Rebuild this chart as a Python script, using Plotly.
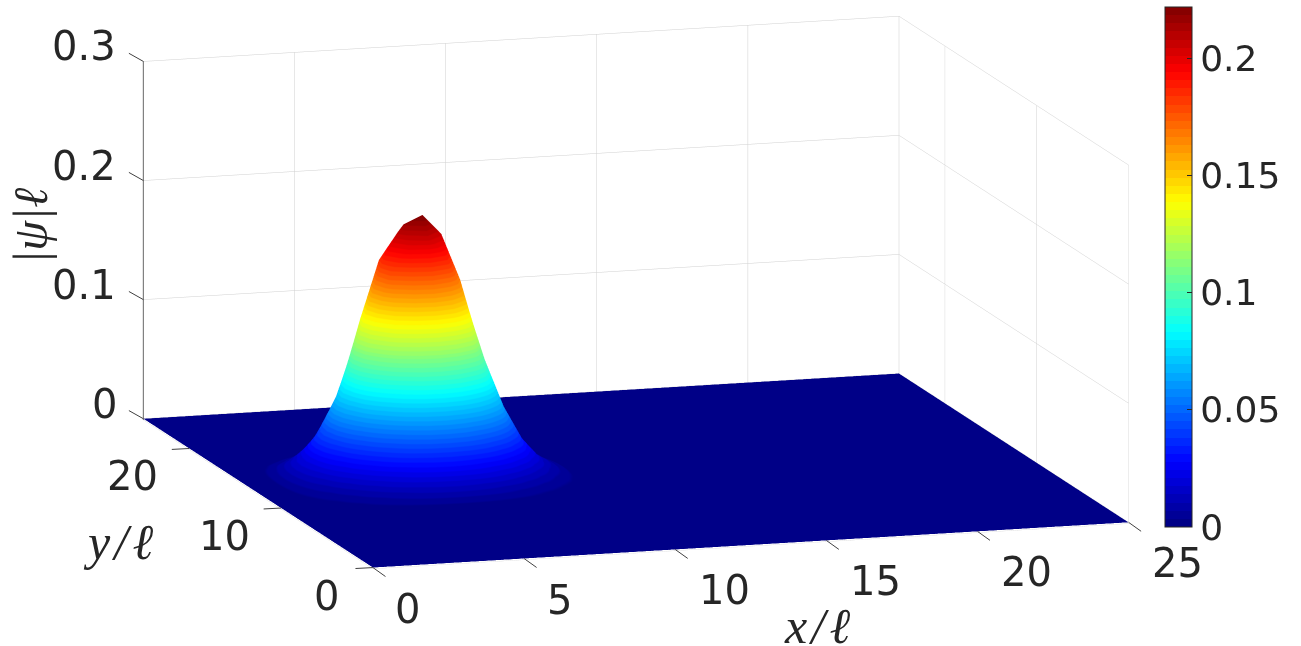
import numpy as np
import plotly.graph_objects as go

GRID_N = 41
X_MAX = 25.0
Y_MAX = 25.0
x_ticks = [0, 5, 10, 15, 20, 25]
y_ticks = [0, 10, 20]
z_ticks = [0, 0.1, 0.2, 0.3]
cbar_ticks = [0, 0.05, 0.1, 0.15, 0.2]
cbar_labels = ["0", "0.05", "0.1", "0.15", "0.2"]
z_peak_limit = 0.222
bump_first_col = 2
bump_first_row = 14
bump_rows = [
 [.0003,.0007,.0014,.0026,.0040,.0055,.0066,.0069,.0062,.0049,.0034,.0020,.0011,.0005,.0002],
 [.0007,.0017,.0036,.0064,.0100,.0137,.0163,.0170,.0154,.0122,.0084,.0050,.0026,.0012,.0005],
 [.0016,.0037,.0077,.0138,.0217,.0296,.0353,.0367,.0333,.0263,.0181,.0109,.0057,.0026,.0010],
 [.0030,.0070,.0145,.0261,.0409,.0558,.0666,.0692,.0627,.0496,.0342,.0205,.0108,.0049,.0020],
 [.0049,.0116,.0238,.0428,.0671,.0917,.1094,.1137,.1031,.0815,.0562,.0338,.0177,.0081,.0032],
 [.0070,.0166,.0341,.0613,.0990,.1400,.1590,.1650,.1500,.1210,.0804,.0483,.0253,.0116,.0046],
 [.0087,.0207,.0426,.0766,.1290,.1780,.1985,.2065,.1875,.1500,.1005,.0604,.0317,.0145,.0058],
 [.0095,.0225,.0464,.0835,.1420,.1900,.2150,.2220,.2050,.1655,.1095,.0658,.0345,.0158,.0063],
 [.0090,.0214,.0441,.0793,.1340,.1830,.2055,.2130,.1945,.1570,.1040,.0625,.0328,.0150,.0060],
 [.0075,.0177,.0365,.0656,.1100,.1510,.1700,.1770,.1610,.1300,.0861,.0518,.0271,.0124,.0049],
 [.0054,.0128,.0264,.0474,.0743,.1016,.1211,.1259,.1141,.0902,.0622,.0374,.0196,.0090,.0036],
 [.0034,.0081,.0166,.0299,.0468,.0640,.0763,.0793,.0719,.0568,.0392,.0235,.0123,.0056,.0023],
 [.0019,.0044,.0091,.0164,.0257,.0351,.0419,.0435,.0395,.0312,.0215,.0129,.0068,.0031,.0012],
 [.0009,.0021,.0044,.0078,.0123,.0168,.0200,.0208,.0189,.0149,.0103,.0062,.0032,.0015,.0006],
 [.0004,.0009,.0018,.0033,.0051,.0070,.0084,.0087,.0079,.0062,.0043,.0026,.0014,.0006,.0002],
]

W, H = 1301, 646
TXT = "#262626"
GRID = "#d0d0d0"
BAR_FONT = dict(family="DejaVu Sans", size=36, color=TXT)
TICK_FONT = dict(family="DejaVu Sans", size=40, color=TXT)

x = np.linspace(0, X_MAX, GRID_N)
y = np.linspace(0, Y_MAX, GRID_N)
z = np.zeros((GRID_N, GRID_N))
b = np.array(bump_rows)
z[bump_first_row:bump_first_row + b.shape[0], bump_first_col:bump_first_col + b.shape[1]] = b


def jet(t):
    r = np.clip(min(4 * t - 1.5, -4 * t + 4.5), 0, 1)
    g = np.clip(min(4 * t - 0.5, -4 * t + 3.5), 0, 1)
    bl = np.clip(min(4 * t + 0.5, -4 * t + 2.5), 0, 1)
    return f"rgb({int(r*255+.5)},{int(g*255+.5)},{int(bl*255+.5)})"


LEVELS = 64
cs = []
for k in range(LEVELS):
    c = jet((k + 0.5) / LEVELS)
    cs.append([k / LEVELS, c])
    cs.append([(k + 1) / LEVELS, c])

surface = go.Surface(
    x=x, y=y, z=z, cmin=0, cmax=z_peak_limit, colorscale=cs,
    lighting=dict(ambient=1, diffuse=0, specular=0, roughness=1, fresnel=0),
    hoverinfo="skip",
    colorbar=dict(
        x=1165 / W, xanchor="left", xpad=0,
        y=1 - 527 / H, yanchor="bottom", ypad=0,
        len=520 / H, lenmode="fraction", thickness=27, thicknessmode="pixels",
        outlinecolor=TXT, outlinewidth=1, borderwidth=0,
        tickmode="array", tickvals=cbar_ticks, ticktext=cbar_labels,
        ticks="inside", ticklen=5, tickcolor=TXT, tickwidth=1,
        tickfont=BAR_FONT,
    ),
)


def axis(vals, rng, line):
    return dict(
        range=rng, tickmode="array", tickvals=vals, showticklabels=False,
        showgrid=True, gridcolor=GRID, gridwidth=1,
        showbackground=False, zeroline=False,
        showline=line, linecolor=TXT, linewidth=2,
        ticks="", title=dict(text=""), showspikes=False,
    )


def label(xv, yv, zv, text, dx, dy):
    return dict(x=xv, y=yv, z=zv, text=text, showarrow=False, xshift=dx, yshift=dy,
                xanchor="center", yanchor="middle", font=TICK_FONT)


def tick(xv, yv, zv, dx, dy):
    return dict(x=xv, y=yv, z=zv, text=" ", showarrow=True, arrowhead=0, arrowwidth=1,
                arrowcolor="#404040", ax=dx, ay=dy, standoff=0, startstandoff=0,
                font=dict(size=1))


tick_labels = []
for v in x_ticks:
    tick_labels.append(tick(v, 0, 0, 14, 10))
    tick_labels.append(label(v, 0, 0, f"{v:g}", 35 if v < 10 else 49, -41))
for v in y_ticks:
    tick_labels.append(tick(0, v, 0, -19, 1))
    tick_labels.append(label(0, v, 0, f"{v:g}", -46 if v < 10 else -57, -28))
for v in z_ticks:
    tick_labels.append(tick(0, 25, v, -16, -9))
    tick_labels.append(label(0, 25, v, f"{v:g}", -39 if v == 0 else -59, 15))

TITLE_FONT = dict(family="Liberation Serif", size=50, color=TXT)
fig = go.Figure(surface)
fig.update_layout(
    width=W, height=H, autosize=False,
    paper_bgcolor="white", margin=dict(l=0, r=0, t=0, b=0, autoexpand=False),
    scene=dict(
        domain=dict(x=[0, 1272 / W], y=[1 - 585 / H, 1]),
        xaxis=axis(x_ticks, [0, 25], False),
        yaxis=axis(y_ticks, [0, 25], False),
        zaxis=axis(z_ticks, [-0.001, 0.3], True),
        aspectmode="manual", aspectratio=dict(x=2.70, y=2.70, z=1.25),
        camera=dict(
            projection=dict(type="orthographic"),
            eye=dict(x=-.285 * 3, y=-.938 * 3, z=.197 * 3),
            up=dict(x=0, y=0, z=1), center=dict(x=0, y=0, z=0),
        ),
        annotations=tick_labels,
    ),
    annotations=[
        dict(text="<i>x\u200a/\u200aℓ</i>", x=817 / W, y=1 - 626 / H, xref="paper", yref="paper", showarrow=False,
             xanchor="center", yanchor="middle", font=TITLE_FONT),
        dict(text="<i>y\u200a/\u200aℓ</i>", x=118 / W, y=1 - 542 / H, xref="paper", yref="paper", showarrow=False,
             xanchor="center", yanchor="middle", font=TITLE_FONT),
        dict(text="<i>|ψ|ℓ</i>", x=30 / W, y=1 - 226 / H, xref="paper", yref="paper", showarrow=False,
             xanchor="center", yanchor="middle", textangle=-90,
             font=dict(family="Liberation Serif", size=48, color=TXT)),
    ],
)
fig.write_html("out.html", config=dict(displayModeBar=False), post_script="document.body.style.margin='0';")
